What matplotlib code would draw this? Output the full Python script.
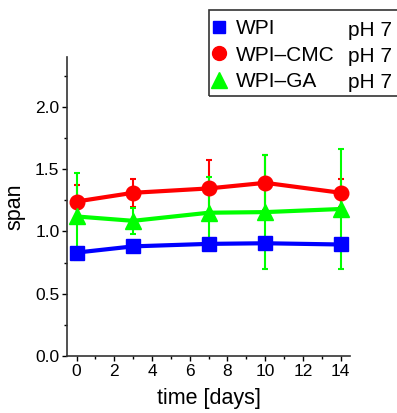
import numpy as np
import matplotlib
matplotlib.use('Agg')
import matplotlib.pyplot as plt
from matplotlib.lines import Line2D
from matplotlib.patches import Rectangle
from matplotlib.ticker import MultipleLocator

plt.rcParams['font.family'] = ['Liberation Sans', 'DejaVu Sans']

# data
days = [0, 3, 7, 10, 14]
wpi = [0.83, 0.88, 0.90, 0.905, 0.895]
wpi_err = [0.02, 0.02, 0.02, 0.02, 0.02]
cmc = [1.24, 1.31, 1.345, 1.39, 1.31]
cmc_err = [0.13, 0.11, 0.23, 0.22, 0.11]
ga = [1.12, 1.085, 1.15, 1.155, 1.18]
ga_err = [0.35, 0.105, 0.29, 0.46, 0.48]
names = ['WPI', 'WPI\u2013CMC', 'WPI\u2013GA']
ph = ['pH 7', 'pH 7', 'pH 7']

fig = plt.figure(figsize=(3.97, 4.13), dpi=100)
ax = fig.add_axes([0.169, 0.138, 0.713, 0.724])

ax.errorbar(days, wpi, yerr=wpi_err, color='#0000ff', lw=3, marker='s',
            ms=9.5, elinewidth=1.5, capsize=2, capthick=1.5)
ax.errorbar(days, cmc, yerr=cmc_err, color='#ff0000', lw=3, marker='o',
            ms=10.5, elinewidth=1.5, capsize=2, capthick=1.5)
ax.errorbar(days, ga, yerr=ga_err, color='#00ff00', lw=3, marker='^',
            ms=11, elinewidth=1.5, capsize=2, capthick=1.5)

ax.set_xlim(-0.5, 14.5)
ax.set_ylim(0, 2.4)
ax.xaxis.set_major_locator(MultipleLocator(2))
ax.xaxis.set_minor_locator(MultipleLocator(1))
ax.yaxis.set_major_locator(MultipleLocator(0.5))
ax.yaxis.set_minor_locator(MultipleLocator(0.25))
ax.set_yticks([0, 0.5, 1.0, 1.5, 2.0])
ax.set_yticklabels(['0.0', '0.5', '1.0', '1.5', '2.0'])
ax.tick_params(which='major', direction='out', length=3.5, width=1,
               labelsize=12.5, pad=2)
ax.tick_params(which='minor', direction='out', length=2, width=1)
ax.spines['top'].set_visible(False)
ax.spines['right'].set_visible(False)
for s in ['left', 'bottom']:
    ax.spines[s].set_linewidth(1.2)
    ax.spines[s].set_color('#333333')

ax.set_xlabel('time [days]', fontsize=15.5, labelpad=7)
ax.set_ylabel('span', fontsize=15.5, labelpad=7)

# legend box, runs off the right edge like the original
fig.patches.append(Rectangle((209 / 397, 1 - 96 / 413), 0.6, 86 / 413,
                             transform=fig.transFigure, fill=False,
                             edgecolor='#333333', lw=1.2))

handles = [Line2D([], [], ls='none', marker='s', color='#0000ff', ms=9),
           Line2D([], [], ls='none', marker='o', color='#ff0000', ms=10),
           Line2D([], [], ls='none', marker='^', color='#00ff00', ms=11)]
leg = fig.legend(handles, names, loc='upper left',
                 bbox_to_anchor=(0.529, 0.961),
                 fontsize=15, frameon=False,
                 handlelength=0.6, handletextpad=0.5, borderpad=0.15,
                 labelspacing=0.35, borderaxespad=0)

for lab, yy in zip(ph, [30, 56.5, 83]):
    fig.text(348 / 397, 1 - yy / 413, lab, fontsize=15, va='center')

fig.savefig('out.png', dpi=100)
